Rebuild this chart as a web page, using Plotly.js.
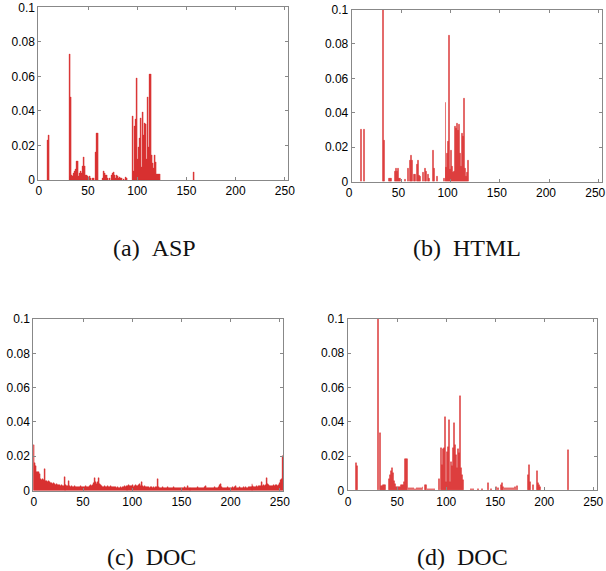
<!DOCTYPE html>
<html>
<head>
<meta charset="utf-8">
<script src="https://cdn.plot.ly/plotly-3.0.1.min.js"></script>
<style>
html,body{margin:0;padding:0;background:#fff;}
#chart{width:606px;height:571px;}
</style>
</head>
<body>
<div id="chart"></div>
<script>
// ---- data: byte value (bin) and relative frequency ----
// (a) ASP
var aBytes = [9,10,31,32,33,34,35,36,37,38,39,40,41,42,43,44,45,46,47,48,49,50,52,53,55,56,58,59,60,
  65,66,67,68,69,70,72,74,75,76,77,78,79,80,81,82,83,84,86,88,89,
  96,97,98,99,100,101,102,103,104,105,106,107,108,109,110,111,112,113,114,115,116,117,118,119,120,121,122,123,157];
var aFreq = [0.023,0.026,0.073,0.002,0.048,0.003,0.002,0.004,0.005,0.006,0.011,0.011,0.002,0.004,0.005,0.004,0.008,0.013,0.008,0.003,0.003,0.002,0.002,0.001,0.001,0.001,0.016,0.027,0.027,
  0.001,0.005,0.004,0.003,0.003,0.001,0.001,0.003,0.004,0.0045,0.003,0.001,0.003,0.002,0.001,0.0015,0.001,0.001,0.0005,0.0015,0.001,
  0.037,0.005,0.031,0.035,0.059,0.012,0.019,0.024,0.0355,0.0075,0.039,0.026,0.033,0.032,0.012,0.048,0.019,0.061,0.061,0.0145,0.0095,0.007,0.0145,0.0104,0.0035,0.0035,0.0035,0.0035,0.0045];

// (b) HTML
var bBytes = [9,12,31,33,38,39,40,44,45,46,47,48,49,54,57,59,60,61,63,64,66,67,68,69,72,74,75,77,78,82,83,86,93,
  95,96,97,98,99,100,101,102,103,104,105,106,107,108,109,110,111,112,113,114,115,116,117,118];
var bFreq = [0.030,0.030,0.12,0.024,0.0015,0.0015,0.0015,0.006,0.0077,0.006,0.0075,0.002,0.0015,0.001,0.0073,0.0125,0.015,0.0125,0.004,0.004,0.010,0.012,0.0035,0.003,0.005,0.0073,0.006,0.004,0.002,0.018,0.0073,0.003,0.002,
  0.046,0.0083,0.016,0.023,0.085,0.007,0.018,0.009,0.005,0.006,0.032,0.031,0.0335,0.0296,0.033,0.016,0.009,0.028,0.026,0.048,0.0075,0.003,0.005,0.012];

// (c) DOC, bins 0..253
var cFreq = [
  0.0265,0.016,0.0145,0.011,0.0105,0.0105,0.0095,0.0065,0.006,0.0068,
  0.0062,0.0125,0.0058,0.0055,0.0052,0.0055,0.0048,0.0045,0.0042,0.004,
  0.0045,0.0038,0.0035,0.0037,0.0032,0.0035,0.003,0.0028,0.0033,0.0025,
  0.0028,0.008,0.0032,0.003,0.0028,0.0025,0.0055,0.0027,0.0022,0.0025,
  0.002,0.0022,0.0025,0.0018,0.002,0.0023,0.0019,0.0021,0.0024,0.002,
  0.0022,0.0018,0.0021,0.0025,0.002,0.0019,0.0023,0.0026,0.003,0.0028,
  0.0035,0.0045,0.0075,0.0048,0.004,0.0052,0.0075,0.0038,0.003,0.0025,
  0.0022,0.002,0.0024,0.0021,0.0018,0.0025,0.0022,0.002,0.0027,0.0023,
  0.0019,0.0021,0.0018,0.002,0.0016,0.0019,0.0017,0.0015,0.0018,0.0016,
  0.0019,0.002,0.0024,0.0021,0.0028,0.0022,0.0026,0.0035,0.0024,0.0029,
  0.0026,0.003,0.0023,0.0025,0.0032,0.0027,0.0024,0.003,0.0036,0.0028,
  0.0048,0.0025,0.0022,0.0027,0.002,0.0018,0.0021,0.0019,0.0017,0.002,
  0.0018,0.0016,0.0019,0.0017,0.0022,0.0018,0.0065,0.0021,0.0017,0.0015,
  0.0016,0.0018,0.0015,0.0017,0.0014,0.0016,0.0019,0.0015,0.0017,0.0014,
  0.0016,0.0015,0.0018,0.0016,0.0014,0.0017,0.0015,0.0016,0.0014,0.0015,
  0.0017,0.0016,0.0015,0.0018,0.0014,0.0016,0.0028,0.0015,0.0017,0.0014,
  0.0016,0.0015,0.0014,0.0017,0.0015,0.0016,0.0014,0.0018,0.0015,0.0016,
  0.0014,0.0017,0.0016,0.0015,0.0022,0.0025,0.0016,0.0015,0.0014,0.0016,
  0.0015,0.0017,0.0016,0.0014,0.0018,0.0016,0.0015,0.0017,0.0019,0.003,
  0.0038,0.0018,0.0016,0.0015,0.0017,0.0016,0.0014,0.0018,0.0016,0.0015,
  0.0017,0.0016,0.0018,0.0015,0.0022,0.0027,0.0017,0.0016,0.0015,0.0018,
  0.0016,0.0017,0.0015,0.0018,0.0016,0.0019,0.0017,0.0016,0.0018,0.002,
  0.0019,0.0022,0.004,0.0025,0.0021,0.0023,0.002,0.0025,0.0022,0.0028,
  0.0024,0.0026,0.0048,0.0027,0.003,0.0026,0.0032,0.0075,0.0038,0.003,
  0.0028,0.0026,0.0029,0.0027,0.0031,0.0028,0.003,0.0033,0.0029,0.0035,
  0.0045,0.006,0.0065,0.02];
var cBytes = cFreq.map(function(v,i){return i;});

// (d) DOC
var dBytes = [8,9,31,33,34,35,36,37,38,42,43,44,45,46,47,48,49,50,51,52,53,54,55,56,57,58,59,60,
  62,64,66,68,70,72,74,76,79,80,82,84,86,88,
  93,95,96,97,98,99,100,101,102,103,104,105,106,107,108,109,110,111,112,113,114,115,116,117,
  125,128,133,137,143,146,151,153,156,157,158,160,162,164,166,168,170,172,184,185,186,189,193,194,195,196,224];
var dFreq = [0.016,0.0142,0.11,0.0337,0.0025,0.0025,0.003,0.003,0.003,0.0064,0.009,0.011,0.0132,0.0103,0.0056,0.0037,0.002,0.002,0.002,0.002,0.002,0.003,0.003,0.003,0.005,0.018,0.018,0.018,
  0.0015,0.0015,0.0015,0.001,0.0015,0.0015,0.0015,0.0018,0.003,0.003,0.001,0.001,0.001,0.001,
  0.0064,0.0245,0.015,0.024,0.0245,0.043,0.005,0.0226,0.0255,0.041,0.005,0.0167,0.014,0.0245,0.039,0.0265,0.0206,0.0128,0.024,0.0216,0.055,0.0128,0.009,0.006,
  0.0008,0.0008,0.0008,0.0008,0.0045,0.0008,0.002,0.0015,0.003,0.004,0.002,0.0015,0.0015,0.0015,0.0015,0.0015,0.002,0.0025,0.009,0.015,0.005,0.003,0.0115,0.004,0.003,0.002,0.0235];

// ---- tick labels ----
var xTicks = [0,50,100,150,200,250];
var yTicks = [0,0.02,0.04,0.06,0.08,0.1];
var yTickText = ['0','0.02','0.04','0.06','0.08','0.1'];
var captions = ['(a)\u00A0\u00A0ASP','(b)\u00A0\u00A0HTML','(c)\u00A0\u00A0DOC','(d)\u00A0\u00A0DOC'];

var barColor = 'rgb(218,44,44)';
function tr(x,y,n){
  return {type:'bar', x:x, y:y, width:1, marker:{color:barColor, line:{width:0.4, color:barColor}},
    xaxis:'x'+(n>1?n:''), yaxis:'y'+(n>1?n:''), hoverinfo:'skip', showlegend:false};
}
var data = [tr(aBytes,aFreq,1), tr(bBytes,bFreq,2), tr(cBytes,cFreq,3), tr(dBytes,dFreq,4)];

var W=606,H=571;
function px2x(p){return p/W;}
function px2y(p){return 1-p/H;}
var boxes = [ // left, right, top, bottom in pixels
  [38.3,288.3,7.3,180],
  [351.7,601.7,9.5,181.5],
  [33.3,283.3,319,490.5],
  [347.7,596.7,319,490.3]
];
var tickFont = {family:'"Liberation Sans", Arial, sans-serif', size:12, color:'#000'};
function xa(b, n){
  return {domain:[px2x(b[0]),px2x(b[1])], range:[-0.5,253.5], anchor:'y'+(n>1?n:''),
    tickvals:xTicks, ticktext:xTicks.map(String), ticks:'inside', ticklen:3, tickcolor:'#888',
    showline:true, linecolor:'#888', linewidth:1, mirror:'ticks', showgrid:false, zeroline:false,
    tickfont:tickFont, ticklabeloverflow:'allow', ticklabelshift:(n===2?-3:0), fixedrange:true};
}
function ya(b, n){
  return {domain:[px2y(b[3]),px2y(b[2])], range:[0,0.1], anchor:'x'+(n>1?n:''),
    tickvals:yTicks, ticktext:yTickText, ticks:'inside', ticklen:3, tickcolor:'#888',
    showline:true, linecolor:'#888', linewidth:1, mirror:'ticks', showgrid:false, zeroline:false,
    tickfont:tickFont, ticklabeloverflow:'allow', fixedrange:true};
}
var capPos = [[154,248],[467,248],[151,557],[462.5,557]];
var annotations = captions.map(function(t,i){
  return {text:t, xref:'paper', yref:'paper', x:px2x(capPos[i][0]), y:px2y(capPos[i][1]),
    xanchor:'center', yanchor:'middle', showarrow:false,
    font:{family:'"Liberation Serif", "DejaVu Serif", serif', size:24, color:'#111'}};
});
var layout = {
  width:W, height:H, margin:{l:0,r:0,t:0,b:0}, paper_bgcolor:'#fff', plot_bgcolor:'#fff',
  bargap:0, showlegend:false, annotations:annotations,
  xaxis:xa(boxes[0],1), yaxis:ya(boxes[0],1),
  xaxis2:xa(boxes[1],2), yaxis2:ya(boxes[1],2),
  xaxis3:xa(boxes[2],3), yaxis3:ya(boxes[2],3),
  xaxis4:xa(boxes[3],4), yaxis4:ya(boxes[3],4)
};
Plotly.newPlot('chart', data, layout, {displayModeBar:false});
</script>
</body>
</html>
